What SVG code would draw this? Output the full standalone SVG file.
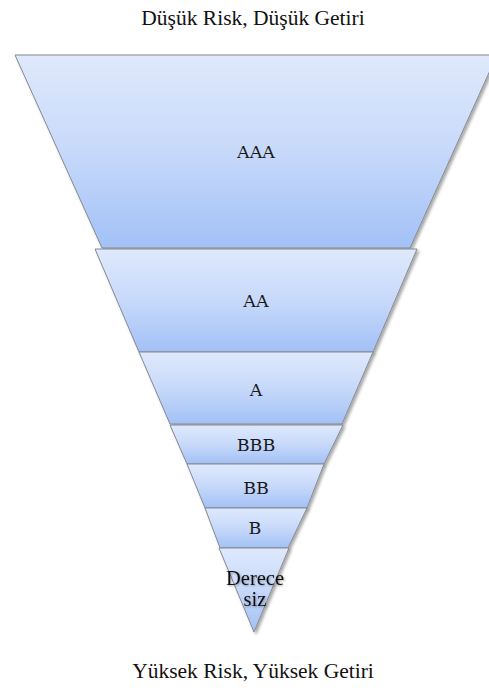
<svg xmlns="http://www.w3.org/2000/svg" width="489" height="693" viewBox="0 0 489 693">
<style>
.slice{stroke:#868a90;stroke-width:1;fill:url(#g);filter:url(#sh)}
.lbl{font-family:"DejaVu Serif","Liberation Serif",serif;font-size:17.5px;fill:#1a1a1a;text-anchor:middle}
.ttl{font-family:"Liberation Serif","Times New Roman",serif;font-size:21.5px;fill:#111;text-anchor:middle}
.der{font-family:"Liberation Serif","Times New Roman",serif;font-size:20.5px;fill:#111;text-anchor:middle;filter:url(#tg)}
</style>
<defs>
<linearGradient id="g" x1="0" y1="0" x2="0" y2="1">
<stop offset="0" stop-color="#dfe9fc"/>
<stop offset="0.5" stop-color="#c7d9fa"/>
<stop offset="1" stop-color="#a2c1f6"/>
</linearGradient>
<filter id="sh" x="-10%" y="-10%" width="130%" height="130%">
<feDropShadow dx="2" dy="2" stdDeviation="1.8" flood-color="#000" flood-opacity="0.35"/>
</filter>
<filter id="tg" x="-20%" y="-30%" width="140%" height="160%">
<feDropShadow dx="1" dy="1" stdDeviation="1.2" flood-color="#000" flood-opacity="0.35"/>
</filter>
</defs>
<rect width="489" height="693" fill="#fff"/>
<text class="ttl" x="253" y="25">Düşük Risk, Düşük Getiri</text>
<g id="aaa"><polygon class="slice" points="15,55 497,55 410,248 102,248"/><text class="lbl" x="256" y="158">AAA</text></g>
<g id="aa"><polygon class="slice" points="95,249 417,249 373,352 139,352"/><text class="lbl" x="256" y="307">AA</text></g>
<g id="a"><polygon class="slice" points="139,352 373,352 342,424 170,424"/><text class="lbl" x="256" y="396">A</text></g>
<g id="bbb"><polygon class="slice" points="170,425 343,425 324,464 187,464"/><text class="lbl" x="256" y="451">BBB</text></g>
<g id="bb"><polygon class="slice" points="187,464 324,464 307,508 205,508"/><text class="lbl" x="256" y="494">BB</text></g>
<g id="b"><polygon class="slice" points="205,508 307,508 288,548 220,548"/><text class="lbl" x="255" y="534">B</text></g>
<g id="derecesiz"><polygon class="slice" points="219,548 289,548 254,632"/>
<text class="der" x="255" y="585">Derece</text>
<text class="der" x="255" y="606">siz</text></g>
<text class="ttl" x="253" y="678">Yüksek Risk, Yüksek Getiri</text>
<g id="connectors"/>
</svg>
